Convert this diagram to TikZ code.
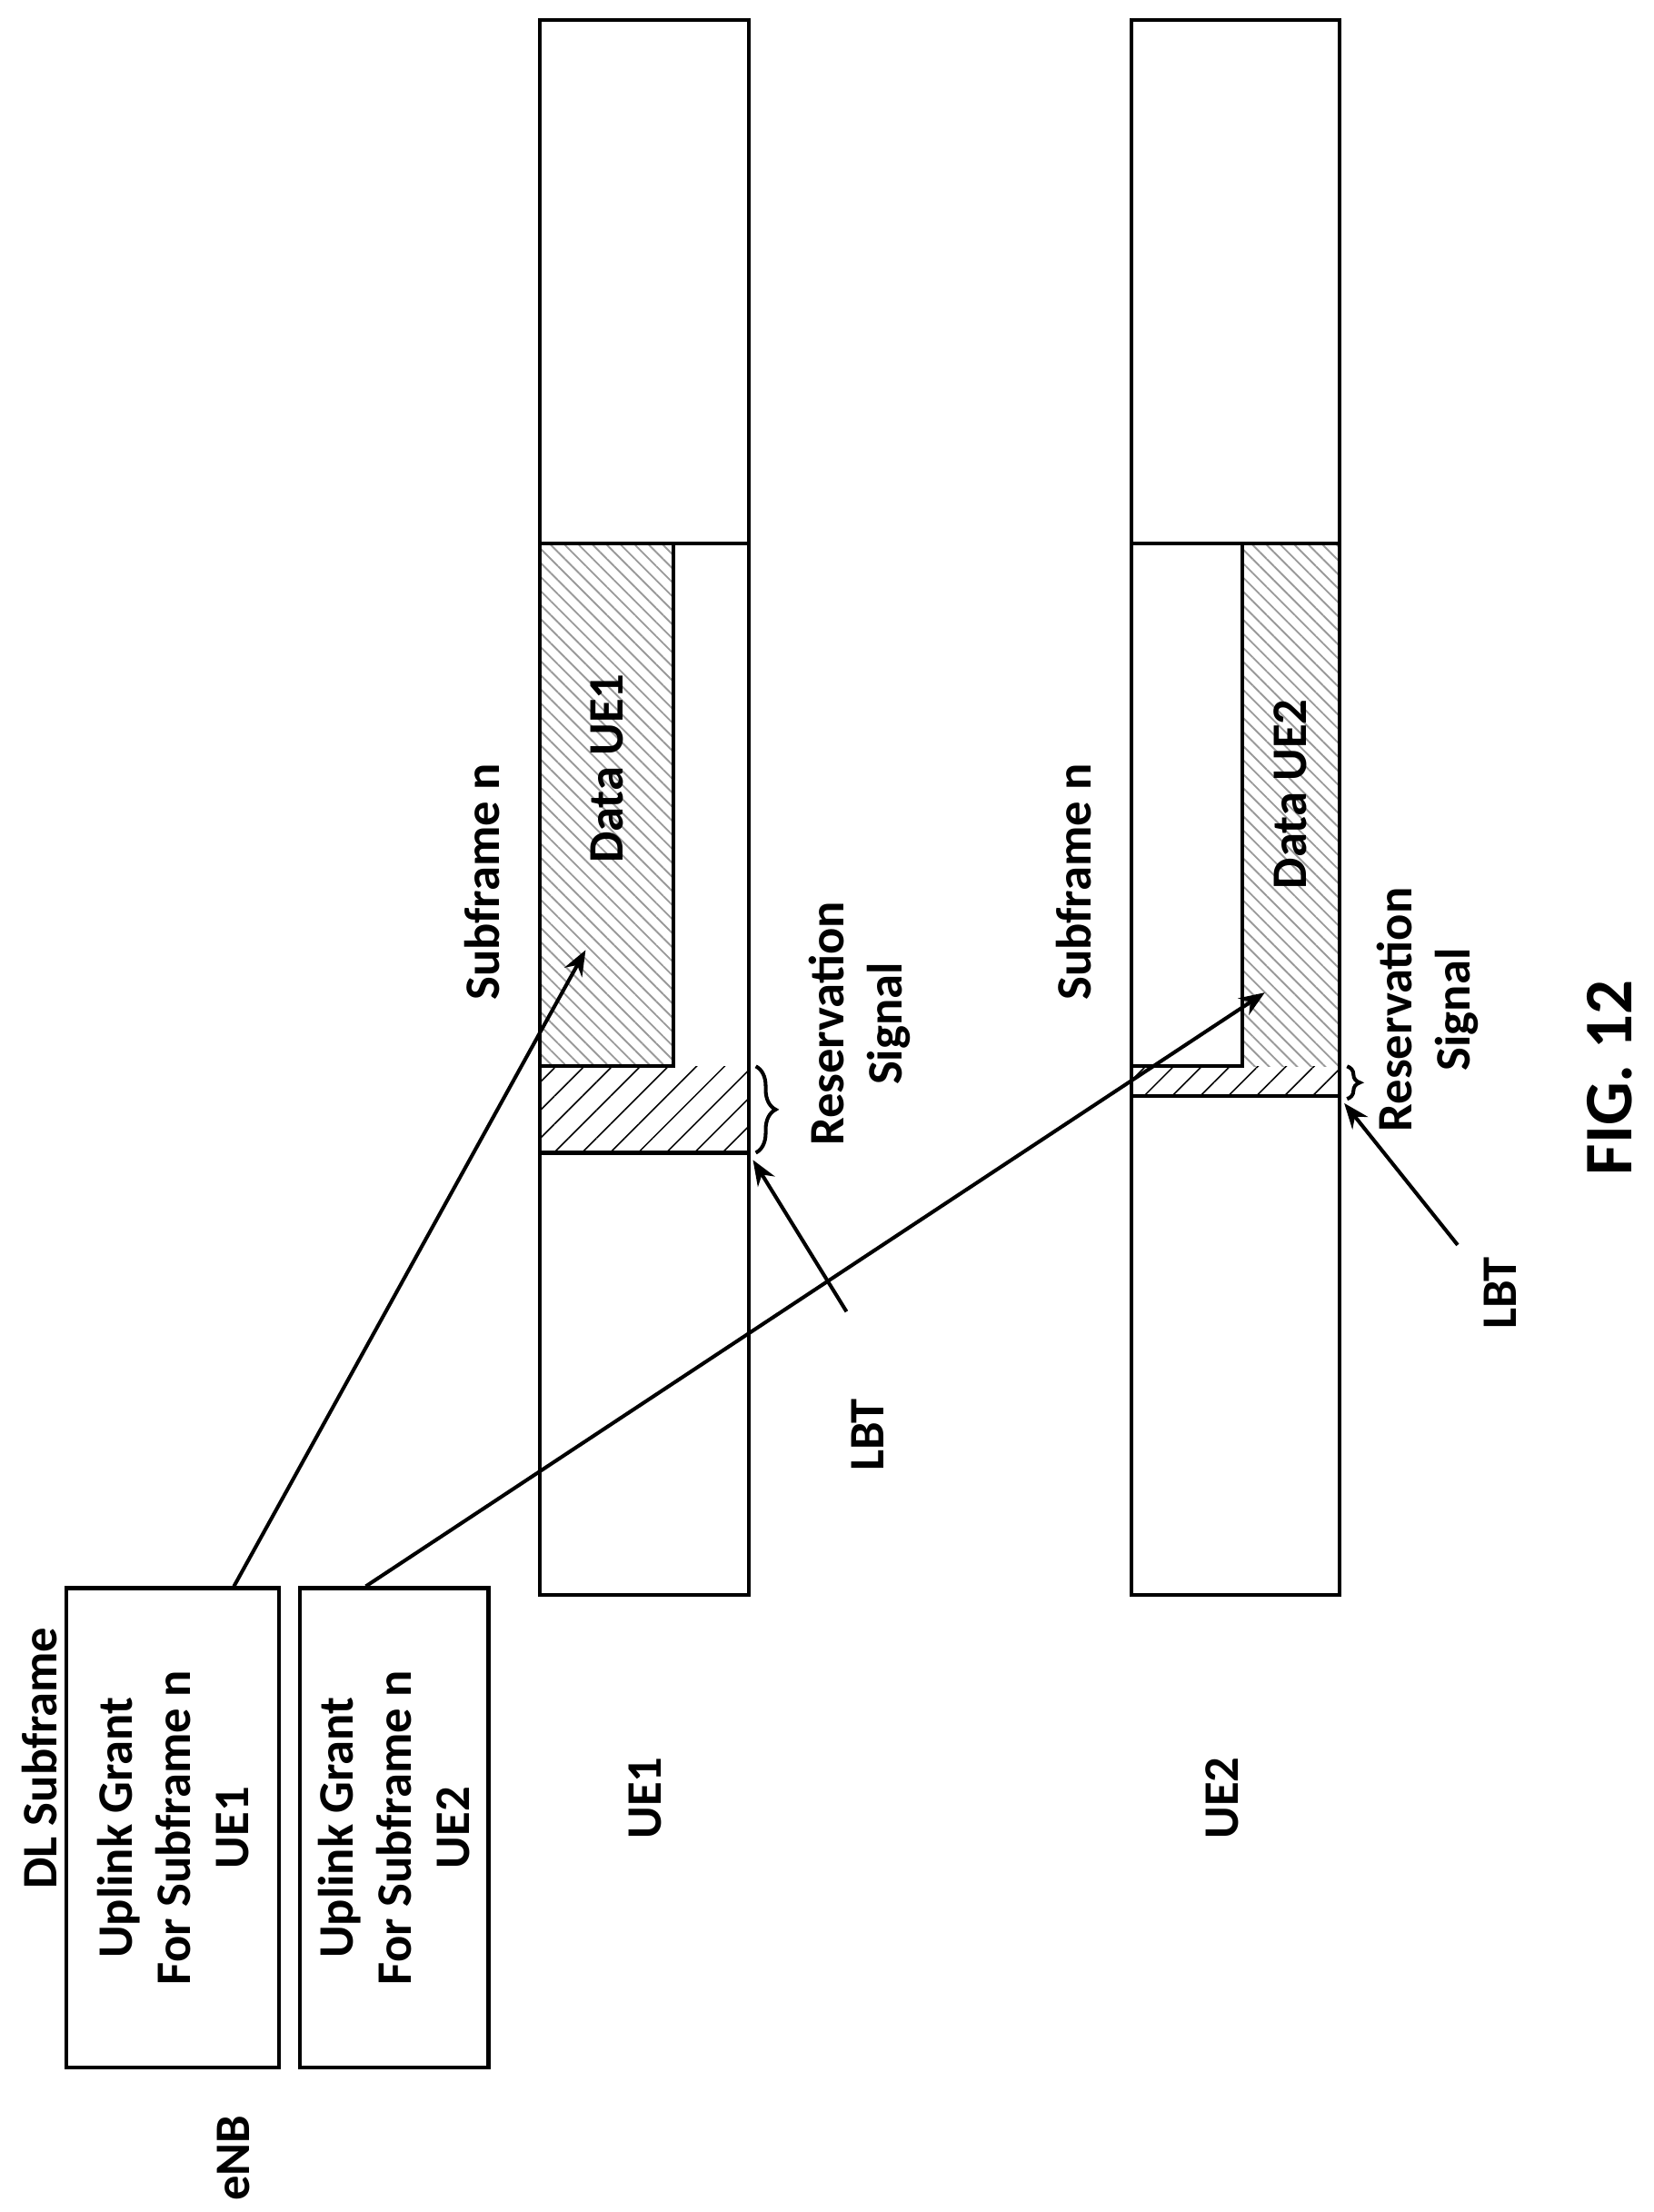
\documentclass[tikz,border=0pt]{standalone}
\usepackage{fontspec}
\setmainfont{Carlito}
\usetikzlibrary{patterns.meta,decorations.pathreplacing,arrows.meta}
\begin{document}
\begin{tikzpicture}[x=1pt,y=-1pt,line width=2.6pt,>={Stealth[length=18pt,width=14pt]},
  txt/.style={font=\bfseries\fontsize{35}{41}\selectfont,rotate=90,align=center},
  box/.style={draw,line width=2.6pt,minimum height=338pt,inner sep=0pt},
  resv/.style={pattern={Lines[angle=45,distance=14pt,line width=1pt]}},
  data/.style={pattern={Lines[angle=-45,distance=7pt,line width=1.2pt]},pattern color=gray!80}]
  \useasboundingbox (0,0) rectangle (1166,1560);
  % UE1 bar
  \fill[data] (381,383) rectangle (475,752);
  \fill[resv] (381,752) rectangle (528,813);
  \draw (381,14) rectangle (528,1125);
  \draw (381,383) -- (528,383) (475,383) -- (475,752) -- (381,752) (381,813) -- (528,813);
  % UE2 bar
  \fill[data] (876,383) rectangle (945,752);
  \fill[resv] (798,752) rectangle (945,773);
  \draw (798,14) rectangle (945,1125);
  \draw (798,383) -- (945,383) (876,383) -- (876,752) -- (798,752) (798,773) -- (945,773);
  % eNB boxes
  \node[box,minimum width=150pt] (g1) at (122,1289) {};
  \node[box,minimum width=133pt] (g2) at (278,1289) {};
  \node[txt] at (g1) {Uplink Grant\\For Subframe n\\UE1};
  \node[txt] at (g2) {Uplink Grant\\For Subframe n\\UE2};
  \node[txt] at (28,1240) {DL Subframe};
  \node[txt] at (165,1522) {eNB};
  \node[txt] at (455,1268) {UE1};
  \node[txt] at (862,1268) {UE2};
  \node[txt] at (340,622) {Subframe n};
  \node[txt] at (757,622) {Subframe n};
  \node[txt] at (428,542) {Data UE1};
  \node[txt] at (910,560) {Data UE2};
  \node[txt] at (606,722) {Reservation\\Signal};
  \node[txt] at (1007,712) {Reservation\\Signal};
  \node[txt] at (612,1012) {LBT};
  \node[txt] at (1058,912) {LBT};
  \node[txt,font=\bfseries\fontsize{48}{54}\selectfont] at (1135,760) {FIG. 12};
  % braces
  \draw[line width=2.6pt,decorate,decoration={brace,amplitude=14pt}] (533,752) -- (533,813);
  \draw[line width=2.6pt,decorate,decoration={brace,amplitude=9pt}] (950,752) -- (950,775);
  % grant arrows
  \coordinate (d1) at (413,670);
  \coordinate (d2) at (892,700);
  \draw[->] ([xshift=43pt]g1.north) -- (d1);
  \draw[->] ([xshift=-20pt]g2.north) -- (d2);
  % LBT arrows
  \coordinate (l1) at (531,818);
  \coordinate (l2) at (948,778);
  \draw[->] (597,925) -- (l1);
  \draw[->] (1028,878) -- (l2);
\end{tikzpicture}
\end{document}
